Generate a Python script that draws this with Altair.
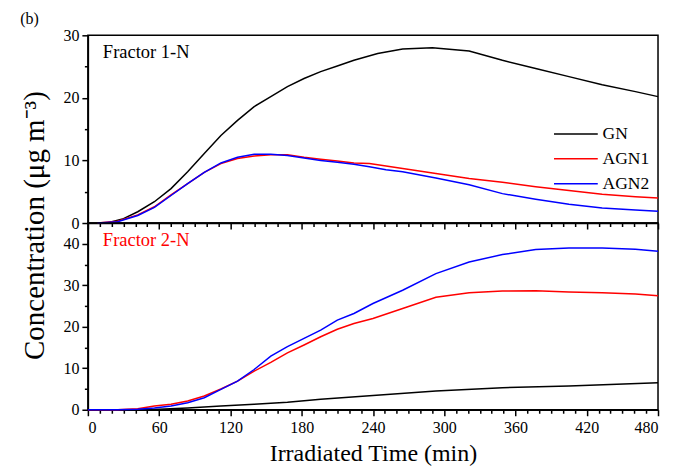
import altair as alt
import pandas as pd

# ---------------- data ----------------
series_names = ["GN", "AGN1", "AGN2"]
series_colors = ["#000000", "#ff0000", "#0000ff"]

# Fractor 1-N (top panel)
top_gn_t = [10, 17, 30, 42, 56, 70, 84, 98, 112, 126, 140, 154, 168, 182, 196, 210, 224, 244, 265, 290, 321, 349, 377, 405, 433, 461, 480]
top_gn_v = [0, 0.05, 0.7, 1.8, 3.4, 5.5, 8.2, 11.1, 14.0, 16.4, 18.6, 20.2, 21.8, 23.1, 24.2, 25.1, 26.0, 27.1, 27.8, 28.0, 27.5, 26.0, 24.7, 23.4, 22.1, 21.0, 20.2]

top_agn1_t = [8, 25, 42, 56, 70, 84, 98, 112, 126, 140, 154, 168, 182, 196, 210, 224, 237, 265, 293, 321, 349, 377, 405, 433, 461, 480]
top_agn1_v = [0, 0.3, 1.3, 2.6, 4.5, 6.3, 8.1, 9.5, 10.3, 10.7, 10.9, 10.9, 10.5, 10.2, 9.9, 9.6, 9.5, 8.7, 7.9, 7.1, 6.5, 5.8, 5.2, 4.6, 4.2, 4.0]

top_agn2_t = [8, 25, 42, 56, 70, 84, 98, 112, 126, 140, 154, 168, 182, 196, 210, 224, 237, 251, 265, 293, 321, 349, 377, 405, 433, 461, 480]
top_agn2_v = [0, 0.2, 1.2, 2.5, 4.4, 6.3, 8.1, 9.6, 10.5, 11.0, 11.0, 10.8, 10.4, 10.0, 9.7, 9.4, 9.0, 8.5, 8.2, 7.2, 6.1, 4.7, 3.8, 3.0, 2.4, 2.1, 1.9]

# Fractor 2-N (bottom panel)
bot_gn_t = [0, 50, 84, 112, 140, 168, 196, 243, 293, 349, 405, 480]
bot_gn_v = [0, 0, 0.4, 0.9, 1.3, 1.8, 2.5, 3.5, 4.5, 5.3, 5.7, 6.5]

bot_agn1_t = [0, 25, 42, 56, 70, 84, 98, 112, 126, 140, 154, 168, 182, 196, 210, 224, 240, 265, 293, 321, 349, 377, 405, 433, 461, 480]
bot_agn1_v = [0, 0, 0.24, 0.9, 1.3, 2.1, 3.3, 5.0, 6.9, 9.3, 11.4, 13.7, 15.6, 17.6, 19.4, 20.8, 22.0, 24.4, 27.1, 28.2, 28.6, 28.7, 28.4, 28.2, 27.9, 27.5]

bot_agn2_t = [0, 25, 42, 56, 70, 84, 98, 112, 126, 140, 154, 168, 182, 196, 210, 224, 240, 265, 293, 321, 349, 377, 405, 433, 461, 480]
bot_agn2_v = [0, 0, 0.1, 0.4, 0.9, 1.7, 2.9, 4.9, 6.9, 9.7, 12.9, 15.2, 17.2, 19.2, 21.6, 23.2, 25.6, 28.8, 32.8, 35.6, 37.4, 38.6, 39.0, 39.0, 38.7, 38.2]

x_major = [0, 60, 120, 180, 240, 300, 360, 420, 480]
x_minor = [v for v in range(0, 481, 10) if v % 60 != 0]
top_y_major = [0, 10, 20, 30]
top_y_minor = [5, 15, 25]
bot_y_major = [0, 10, 20, 30, 40]
bot_y_minor = [5, 15, 25, 35]

panel_labels = ["Fractor 1-N", "Fractor 2-N"]
panel_label_colors = ["#000000", "#ff0000"]


def frame(pairs):
    rows = []
    for name, ts, vs in pairs:
        for t, v in zip(ts, vs):
            rows.append({"t": t, "c": v, "series": name})
    return pd.DataFrame(rows)


top_df = frame([("GN", top_gn_t, top_gn_v), ("AGN1", top_agn1_t, top_agn1_v), ("AGN2", top_agn2_t, top_agn2_v)])
bot_df = frame([("GN", bot_gn_t, bot_gn_v), ("AGN1", bot_agn1_t, bot_agn1_v), ("AGN2", bot_agn2_t, bot_agn2_v)])

FONT = "Liberation Serif"
W = 571
H_TOP = 188
H_BOT = 187

color_scale = alt.Scale(domain=series_names, range=series_colors)


def panel(df, ydom, ymaj, ymin, h, label, label_color, bottom, legend):
    if bottom:
        xaxis = alt.Axis(values=x_major, orient="bottom", title="Irradiated Time (min)",
                         titleFontSize=24, titleFont=FONT, titleFontWeight="normal",
                         titlePadding=6, tickSize=6, labelPadding=4)
    else:
        xaxis = alt.Axis(values=x_major, orient="bottom", labels=False, title=None, tickSize=6)
    if not bottom:
        yaxis = alt.Axis(values=ymaj, orient="left", title="Concentration (μg m⁻³)",
                         titleFontSize=29, titleFont=FONT, titleFontWeight="normal",
                         titleX=-44, titleY=190, titleAlign="center", titleBaseline="alphabetic",
                         titleAngle=-90, tickSize=6)
    else:
        yaxis = alt.Axis(values=ymaj, orient="left", title=None, tickSize=6)

    if legend:
        leg = alt.Legend(orient="none", legendX=480, legendY=90, title=None,
                         symbolType="M-4,0H4", symbolSize=120, symbolStrokeWidth=1.5,
                         labelFont=FONT, labelFontSize=17.5, labelOffset=18, rowPadding=6)
    else:
        leg = None

    lines = alt.Chart(df).mark_line(strokeWidth=1.5).encode(
        x=alt.X("t:Q", scale=alt.Scale(domain=[0, 480], nice=False, zero=False), axis=xaxis),
        y=alt.Y("c:Q", scale=alt.Scale(domain=ydom, nice=False), axis=yaxis),
        color=alt.Color("series:N", scale=color_scale, legend=leg),
        detail="series:N",
    )
    minor = alt.Chart(df).mark_point(opacity=0).encode(
        x=alt.X("t:Q", axis=alt.Axis(values=x_minor, orient="bottom", labels=False, title=None,
                                     tickSize=3.5, domain=False)),
        y=alt.Y("c:Q", axis=alt.Axis(values=ymin, orient="left", labels=False, title=None,
                                     tickSize=3.5, domain=False)),
    )
    txt = alt.Chart(pd.DataFrame({"label": [label]})).mark_text(
        align="left", baseline="alphabetic", font=FONT, fontSize=18.5, color=label_color
    ).encode(text="label:N", x=alt.value(15), y=alt.value(23))
    return alt.layer(lines, minor, txt).resolve_axis(x="independent", y="independent").properties(
        width=W, height=h)


top = panel(top_df, [0, 30], top_y_major, top_y_minor, H_TOP, panel_labels[0], panel_label_colors[0], False, True)
bot = panel(bot_df, [0, 45], bot_y_major, bot_y_minor, H_BOT, panel_labels[1], panel_label_colors[1], True, False)

chart = alt.vconcat(top, bot, spacing=0, bounds="flush").properties(
    title=alt.TitleParams("(b)", anchor="start", frame="bounds", font=FONT, fontSize=16,
                          fontWeight="normal", color="black", offset=0),
    padding={"left": 12, "top": 2, "right": 5, "bottom": 0},
).configure_view(
    stroke="black", strokeWidth=1.5
).configure_axis(
    labelFont=FONT, labelFontSize=16, labelColor="black", tickColor="black",
    domainColor="black", domainWidth=1.5, tickWidth=1.5, grid=False, labelPadding=3,
    titleColor="black"
)

chart.save("out.html", embed_options={"renderer": "svg", "actions": False})
